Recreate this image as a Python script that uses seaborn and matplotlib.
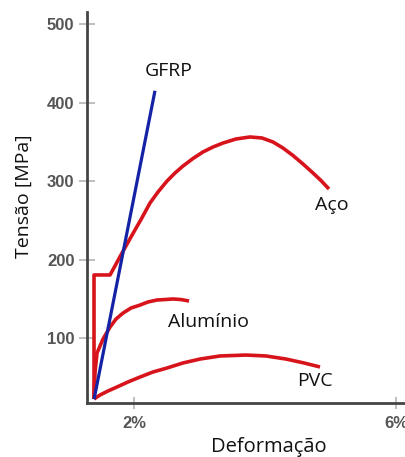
import matplotlib
matplotlib.use("Agg")
import matplotlib.pyplot as plt
import seaborn as sns
import pandas as pd

# ---- data (strain %, stress MPa) ----
gfrp_x = [1.39, 2.32]
gfrp_y = [22, 415]

aco_x = [1.389, 1.389, 1.634, 1.802, 1.969, 2.107, 2.244, 2.366, 2.504, 2.626, 2.748, 2.901,
         3.053, 3.206, 3.359, 3.557, 3.771, 3.954, 4.122, 4.275, 4.427, 4.580, 4.733, 4.855, 4.977]
aco_y = [22.3, 180.3, 180.3, 206.0, 231.0, 251.0, 272.0, 286.0, 300.0, 310.2, 319.1, 328.7,
         337.0, 343.3, 348.4, 353.5, 356.1, 354.8, 349.7, 342.0, 332.5, 321.7, 310.2, 300.6, 289.8]

alu_x = [1.389, 1.405, 1.435, 1.527, 1.634, 1.725, 1.832, 1.954, 2.092, 2.214, 2.351, 2.473,
         2.595, 2.718, 2.840]
alu_y = [22.3, 56.7, 80.9, 98.7, 114.0, 124.2, 131.8, 138.2, 142.0, 145.9, 148.4, 149.0,
         149.7, 149.0, 147.1]

pvc_x = [1.389, 1.481, 1.603, 1.740, 1.908, 2.092, 2.290, 2.504, 2.748, 3.008, 3.313, 3.710,
         4.015, 4.321, 4.595, 4.840]
pvc_y = [22.3, 27.4, 32.5, 37.6, 44.0, 50.3, 56.7, 61.8, 68.2, 73.2, 77.1, 78.3,
         77.1, 73.2, 68.2, 63.1]

series_names = ["GFRP", "Aço", "Alumínio", "PVC"]
label_pos = {"GFRP": (2.53, 440), "Aço": (5.02, 270), "Alumínio": (3.13, 120), "PVC": (4.77, 45)}

x_ticks = [2, 6]
x_tick_labels = ["2%", "6%"]
y_ticks = [100, 200, 300, 400, 500]

frames = []
for name, xs, ys in [("GFRP", gfrp_x, gfrp_y), ("Aço", aco_x, aco_y),
                     ("Alumínio", alu_x, alu_y), ("PVC", pvc_x, pvc_y)]:
    frames.append(pd.DataFrame({"strain": xs, "stress": ys, "mat": name}))
df = pd.concat(frames, ignore_index=True)

sns.set_style("white")
plt.rcParams["font.family"] = ["Open Sans", "DejaVu Sans"]

fig = plt.figure(figsize=(4.06, 4.57), dpi=100)
ax = fig.add_axes([87 / 406, (457 - 403) / 457, (406 - 87) / 406, (403 - 12) / 457])

red = "#d7141c"
blue = "#1423a6"
palette = {"GFRP": blue, "Aço": red, "Alumínio": red, "PVC": red}

for name in ["Aço", "Alumínio", "PVC", "GFRP"]:
    sub = df[df["mat"] == name]
    sns.lineplot(data=sub, x="strain", y="stress", sort=False, estimator=None,
                 color=palette[name], linewidth=2.6 if name != "GFRP" else 2.3,
                 ax=ax, legend=False, solid_joinstyle="round", solid_capstyle="butt")

for name in series_names:
    lx, ly = label_pos[name]
    ax.text(lx, ly, name, fontsize=14, ha="center", va="center", color="#111111",
            family=["Open Sans", "DejaVu Sans"])

ax.set_xlim(1.282, 6.153)
ax.set_ylim(17.2, 515.3)

ax.set_xticks(x_ticks)
ax.set_xticklabels(x_tick_labels)
ax.set_yticks(y_ticks)

for lab in ax.get_xticklabels() + ax.get_yticklabels():
    lab.set_fontfamily(["Liberation Sans", "DejaVu Sans"])
    lab.set_fontweight("bold")
    lab.set_fontsize(12)
    lab.set_color("#555555")

ax.tick_params(axis="y", direction="inout", length=12, width=1.2, color="#b4b4b4", pad=3,
               left=True)
ax.tick_params(axis="x", direction="inout", length=9, width=1.2, color="#b4b4b4", pad=5,
               bottom=True)

ax.set_xlabel("Deformação", fontsize=14.5, color="#111111")
ax.set_ylabel("Tensão [MPa]", fontsize=14, color="#111111")
ax.xaxis.set_label_coords((269 - 87) / 319, (403 - 437) / 391)
ax.yaxis.set_label_coords((33 - 87) / 319, (403 - 196) / 391)

for side in ["top", "right"]:
    ax.spines[side].set_visible(False)
for side in ["left", "bottom"]:
    ax.spines[side].set_color("#454545")
    ax.spines[side].set_linewidth(2)

fig.savefig("out.png", dpi=100)
